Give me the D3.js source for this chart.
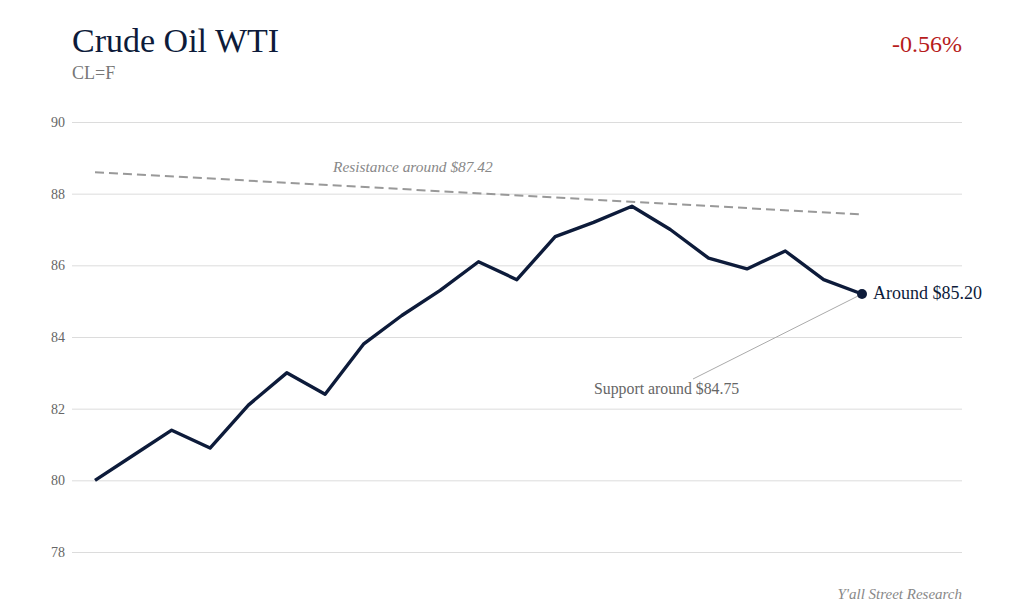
<!DOCTYPE html>
<html>
<head>
<meta charset="utf-8">
<script src="https://cdn.jsdelivr.net/npm/d3@7"></script>
<style>
  body { margin: 0; background: #fff; }
  svg { display: block; font-family: "Liberation Serif", "DejaVu Serif", serif; }
</style>
</head>
<body>
<script>
// daily closes
var prices = [80.0, 80.7, 81.4, 80.9, 82.1, 83.0, 82.4, 83.8, 84.6, 85.3, 86.1,
              85.6, 86.8, 87.2, 87.65, 87.0, 86.2, 85.9, 86.4, 85.6, 85.2];
var yTicks = [78, 80, 82, 84, 86, 88, 90];
var resistance = [88.6, 87.42];   // start, end of the trend line
var lastLabel = "Around $85.20";
var resistanceLabel = "Resistance around $87.42";
var supportLabel = "Support around $84.75";

var width = 1024, height = 614;
var navy = "#0d1b3a";

var svg = d3.select("body").append("svg")
  .attr("width", width)
  .attr("height", height);

var x = d3.scaleLinear().domain([0, prices.length - 1]).range([95, 862]);
var y = d3.scaleLinear().domain([78, 90]).range([552, 122]);

// grid + labels
var yAxis = d3.axisLeft(y)
  .tickValues(yTicks)
  .tickSize(-(962 - 72))
  .tickPadding(7);

var g = svg.append("g")
  .attr("transform", "translate(72,0)")
  .call(yAxis);
g.select(".domain").remove();
g.selectAll(".tick line").attr("stroke", "#dcdcdc").attr("stroke-width", 1);
g.selectAll(".tick text")
  .attr("fill", "#666")
  .style("font-family", "Liberation Serif, serif")
  .style("font-size", "14px");

// resistance trend line
svg.append("line")
  .attr("x1", x(0)).attr("y1", y(resistance[0]))
  .attr("x2", x(prices.length - 1)).attr("y2", y(resistance[1]))
  .attr("stroke", "#999")
  .attr("stroke-width", 2)
  .attr("stroke-dasharray", "9,5");

svg.append("text")
  .attr("x", 333).attr("y", 172)
  .attr("fill", "#888")
  .style("font-style", "italic")
  .style("font-size", "15.4px")
  .text(resistanceLabel);

// price line
var line = d3.line()
  .x(function(d, i) { return x(i); })
  .y(function(d) { return y(d); });

svg.append("path")
  .datum(prices)
  .attr("d", line)
  .attr("fill", "none")
  .attr("stroke", navy)
  .attr("stroke-width", 3.4)
  .attr("stroke-linejoin", "round");

var last = prices.length - 1;

// support leader
svg.append("line")
  .attr("x1", x(last)).attr("y1", y(prices[last]))
  .attr("x2", 693).attr("y2", 379)
  .attr("stroke", "#aaa")
  .attr("stroke-width", 1);

svg.append("text")
  .attr("x", 594).attr("y", 394)
  .attr("fill", "#666")
  .style("font-size", "15.8px")
  .text(supportLabel);

svg.append("circle")
  .attr("cx", x(last)).attr("cy", y(prices[last]))
  .attr("r", 5)
  .attr("fill", navy);

svg.append("text")
  .attr("x", x(last) + 11).attr("y", y(prices[last]) + 5)
  .attr("fill", navy)
  .style("font-size", "18px")
  .text(lastLabel);

// header
svg.append("text")
  .attr("x", 72).attr("y", 52)
  .attr("fill", navy)
  .style("font-size", "34px")
  .text("Crude Oil WTI");

svg.append("text")
  .attr("x", 72).attr("y", 79)
  .attr("fill", "#777")
  .style("font-size", "18px")
  .text("CL=F");

svg.append("text")
  .attr("x", 962).attr("y", 52)
  .attr("text-anchor", "end")
  .attr("fill", "#b71c1c")
  .style("font-size", "24px")
  .text("-0.56%");

svg.append("text")
  .attr("x", 962).attr("y", 599)
  .attr("text-anchor", "end")
  .attr("fill", "#888")
  .style("font-style", "italic")
  .style("font-size", "15px")
  .text("Y'all Street Research");
</script>
</body>
</html>
